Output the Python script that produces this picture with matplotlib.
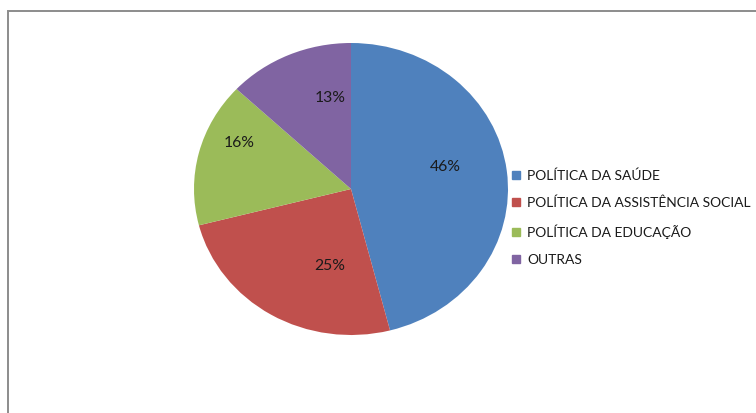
import matplotlib
matplotlib.use("Agg")
import matplotlib.pyplot as plt
from matplotlib.patches import Rectangle
from matplotlib.lines import Line2D

categories = ["POLÍTICA DA SAÚDE", "POLÍTICA DA ASSISTÊNCIA SOCIAL",
              "POLÍTICA DA EDUCAÇÃO", "OUTRAS"]
values = [46, 25, 16, 13]
colors = ["#4F81BD", "#C0504D", "#9BBB59", "#8064A2"]
# label anchor positions in pie units (style, not data)
label_pos = [(0.60, 0.15), (-0.137, -0.524), (-0.713, 0.318), (-0.134, 0.620)]

plt.rcParams['font.family'] = ['Lato', 'DejaVu Sans']

W, H = 756, 413
fig = plt.figure(figsize=(W / 100, H / 100), dpi=100)
fig.patch.set_facecolor("white")

# outer frame
fig.patches.append(Rectangle((8 / W, -0.1), 1.2, (H - 11) / H + 0.1,
                             transform=fig.transFigure, fill=False,
                             edgecolor="#8C8C8C", linewidth=1.4))

cx, cy, rx, ry = 351, 189, 157, 146
ax = fig.add_axes([(cx - rx) / W, (H - cy - ry) / H, 2 * rx / W, 2 * ry / H])
wedges, texts, autotexts = ax.pie(values, colors=colors, startangle=90,
                                  counterclock=False, radius=1,
                                  autopct=lambda p: f"{p:.0f}%",
                                  pctdistance=0.6,
                                  textprops=dict(fontsize=11.3, color="#1a1a1a"))
for t, pos in zip(autotexts, label_pos):
    t.set_position(pos)
    t.set_ha("center")
    t.set_va("center")
ax.set_aspect("auto")
ax.set_xlim(-1, 1)
ax.set_ylim(-1, 1)
ax.axis("off")

handles = [Line2D([], [], marker="s", linestyle="none", markersize=5.2,
                  markerfacecolor=c, markeredgecolor=c) for c in colors]
leg = fig.legend(handles, categories, loc="upper left",
                 bbox_to_anchor=(512 / W, (H - 169) / H),
                 frameon=False, fontsize=10, handlelength=0.6,
                 handletextpad=0.5, labelspacing=1.1, borderaxespad=0,
                 borderpad=0)
for t in leg.get_texts():
    t.set_color("#1a1a1a")

fig.savefig("out.png", dpi=100, facecolor="white")
